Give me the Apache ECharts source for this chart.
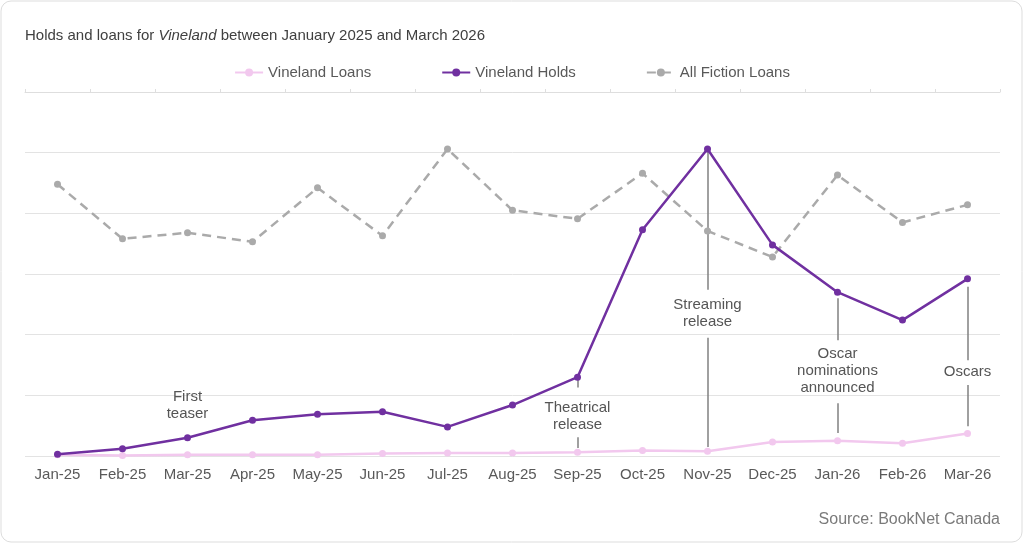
<!DOCTYPE html>
<html>
<head>
<meta charset="utf-8">
<script src="https://cdn.jsdelivr.net/npm/echarts@6/dist/echarts.min.js"></script>
<style>html,body{margin:0;padding:0;background:#fff;}#c{width:1024px;height:544px;}</style>
</head>
<body>
<div id="c"></div>
<script>
// Data (in units of y-gridlines; the original chart shows no y values)
var categories = ['Jan-25','Feb-25','Mar-25','Apr-25','May-25','Jun-25','Jul-25','Aug-25','Sep-25','Oct-25','Nov-25','Dec-25','Jan-26','Feb-26','Mar-26'];
var vinelandLoans = [0.02,0.01,0.02,0.02,0.02,0.04,0.05,0.05,0.06,0.09,0.08,0.23,0.25,0.21,0.37];
var vinelandHolds = [0.03,0.12,0.30,0.59,0.69,0.73,0.48,0.84,1.30,3.73,5.06,3.48,2.70,2.24,2.92];
var fictionLoans = [4.48,3.58,3.68,3.53,4.42,3.63,5.06,4.05,3.91,4.66,3.71,3.28,4.63,3.85,4.14];

// Annotations: category, text, label centre value, connector segments [from,to]
var annCats = ['Mar-25','Sep-25','Nov-25','Jan-26','Mar-26'];
var annTexts = ['First\nteaser','Theatrical\nrelease','Streaming\nrelease','Oscar\nnominations\nannounced','Oscars'];
var annLabelY = [0.83,0.65,2.35,1.41,1.38];
var annSegments = [
  [],
  [[1.30,1.13],[0.31,0.13]],
  [[5.06,2.74],[1.95,0.15]],
  [[2.60,1.91],[0.87,0.38]],
  [[2.79,1.58],[1.17,0.49]]
];

var markLineData = [];
annCats.forEach(function(c,i){
  annSegments[i].forEach(function(s){
    markLineData.push([{coord:[c,s[0]]},{coord:[c,s[1]]}]);
  });
});
var markPointData = annCats.map(function(c,i){
  return {coord:[c,annLabelY[i]], value:0, label:{formatter:annTexts[i]}};
});

var chart = echarts.init(document.getElementById('c'), null, {renderer:'canvas'});
var font = 'Liberation Sans, Arial, Helvetica, sans-serif';
chart.setOption({
  animation:false,
  backgroundColor:'#fff',
  textStyle:{fontFamily:font},
  title:{
    left:25, top:28, padding:0,
    text:'{a|Holds and loans for }{i|Vineland}{a| between January 2025 and March 2026}',
    textStyle:{fontWeight:'normal',rich:{
      a:{fontSize:15,color:'#404040',fontWeight:'normal',fontFamily:font},
      i:{fontSize:15,color:'#404040',fontWeight:'normal',fontStyle:'italic',fontFamily:font}
    }}
  },
  graphic:[
    {type:'rect',shape:{x:1,y:1,width:1021,height:541,r:10},style:{fill:'none',stroke:'#dddddd',lineWidth:1},z:-1},
    {type:'text',right:24,top:512,style:{text:'Source: BookNet Canada',fill:'#7a7a7a',font:'16px '+font}}
  ],
  legend:{
    top:60, left:'center',
    itemWidth:28, itemHeight:10, itemGap:70,
    textStyle:{fontSize:15,color:'#595959',fontFamily:font},
    data:['Vineland Loans','Vineland Holds','All Fiction Loans']
  },
  grid:{left:25,right:24,top:92,bottom:88},
  xAxis:[
    {type:'category',data:categories,boundaryGap:true,
     axisLine:{show:false},axisTick:{show:false},
     axisLabel:{interval:0,margin:11,fontSize:15,color:'#595959',fontFamily:font}},
    {type:'category',data:categories,position:'top',boundaryGap:true,
     axisLine:{show:true,lineStyle:{color:'#dedede'}},
     axisTick:{show:true,interval:0,length:3,lineStyle:{color:'#dedede'}},
     axisLabel:{show:false}}
  ],
  yAxis:{type:'value',min:0,max:6,interval:1,
    axisLabel:{show:false},axisLine:{show:false},axisTick:{show:false},
    splitLine:{lineStyle:{color:'#e3e3e3',width:1}}},
  series:[
    {name:'Vineland Loans',type:'line',data:vinelandLoans,symbol:'circle',symbolSize:7,
     lineStyle:{color:'#f2c8ee',width:2.5},itemStyle:{color:'#f2c8ee'},z:3},
    {name:'Vineland Holds',type:'line',data:vinelandHolds,symbol:'circle',symbolSize:7,
     lineStyle:{color:'#7030a0',width:2.5},itemStyle:{color:'#7030a0'},z:4,
     markLine:{silent:true,symbol:['none','none'],label:{show:false},
       lineStyle:{color:'#808080',width:1.5,type:'solid'},data:markLineData,z:2},
     markPoint:{silent:true,symbol:'circle',symbolSize:1,itemStyle:{color:'rgba(0,0,0,0)'},
       label:{show:true,position:'inside',color:'#555555',fontSize:15,lineHeight:17,fontFamily:font,align:'center'},
       data:markPointData}},
    {name:'All Fiction Loans',type:'line',data:fictionLoans,symbol:'circle',symbolSize:7,
     lineStyle:{color:'#aaaaaa',width:2.5,type:[9,6]},itemStyle:{color:'#aaaaaa'},z:2}
  ]
});
</script>
</body>
</html>
